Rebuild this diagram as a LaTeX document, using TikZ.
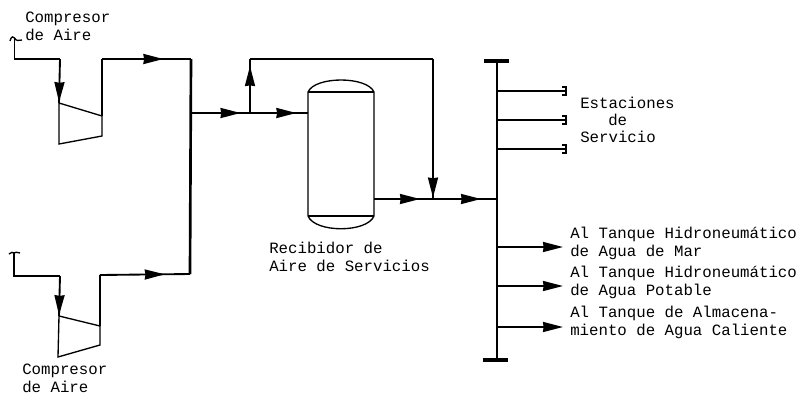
\documentclass[tikz,border=0pt]{standalone}
\usepackage{fontspec}
\setmonofont{Liberation Mono}
\usetikzlibrary{arrows.meta,decorations.markings}
\tikzset{pipe/.style={line width=1.4pt,line join=miter},
 thin pipe/.style={line width=1pt},
 bus/.style={line width=2pt},
 arr/.style={-{Stealth[length=15pt,width=7.5pt,inset=.5pt]},line width=1.4pt},
 flow/.style={pipe,postaction={decorate},decoration={markings,mark=at position #1 with {\arrow{Stealth[length=15pt,width=7.5pt,inset=.5pt]}}}},
 txt/.style={anchor=west,align=left,inner sep=0pt,font=\fontsize{11.8}{13.4}\selectfont\ttfamily}}
\begin{document}
\begin{tikzpicture}[x=.75pt,y=-.75pt]
\useasboundingbox (0,0) rectangle (797,394);
% compresores
\coordinate (ua) at (14.5,38);\coordinate (ub) at (14.5,59);\coordinate (uc) at (60,59);
\coordinate (ud) at (59,103);\coordinate (ue) at (102,116);\coordinate (uf) at (102,136);\coordinate (ug) at (59,144);
\coordinate (uh) at (102,59);\coordinate (ui) at (191,59);
\coordinate (la) at (14,253);\coordinate (lb) at (14,276);\coordinate (lc) at (60,276);
\coordinate (ld) at (59,316);\coordinate (le) at (100,326);\coordinate (lf) at (100,345);\coordinate (lg) at (58,357);
\coordinate (lh) at (100,275);\coordinate (li) at (190,274);
\draw[pipe] (ua)--(ub)--(uc);
\draw[flow=.98] (uc)--(ud);
\draw[thin pipe] (ud)--(ue)--(uf)--(ug)--cycle;
\draw[pipe] (ue)--(uh);
\draw[flow=.69] (uh)--(ui);
\draw[pipe] (la)--(lb)--(lc);
\draw[flow=.98] (lc)--(ld);
\draw[thin pipe] (ld)--(le)--(lf)--(lg)--cycle;
\draw[pipe] (le)--(lh);
\draw[flow=.72] (lh)--(li);
\draw[bus] (ui)--(li);
\draw[thin pipe] (10,41) .. controls (11,36) and (14,36) .. (ua) .. controls (16,41) and (19,41) .. (22,40);
\draw[thin pipe] (9,254) .. controls (11,252) and (13,252) .. (la) .. controls (15,252) and (17,252) .. (20,253);
% recibidor
\coordinate (ta) at (308,92);\coordinate (tb) at (374,92);\coordinate (tc) at (374,216);\coordinate (td) at (308,216);
\draw[thin pipe] (ta) .. controls (315,76) and (367,76) .. (tb) -- (tc) .. controls (367,233) and (315,233) .. (td) -- cycle;
\draw[thin pipe] (ta)--(tb) (td)--(tc);
% lineas
\coordinate (ma) at (191,113);\coordinate (mb) at (250,113);\coordinate (mc) at (308,113);
\coordinate (md) at (250,59);\coordinate (me) at (433,59);
\coordinate (na) at (374,199);\coordinate (nb) at (433,199);\coordinate (nc) at (497,199);
\draw[flow=.84] (ma)--(mb);
\draw[flow=.8] (mb)--(mc);
\draw[flow=.87] (mb)--(md);
\draw[pipe] (md)--(me);
\draw[flow=.99] (me)--(nb);
\draw[flow=.78] (na)--(nb);
\draw[flow=.75] (nb)--(nc);
% colector
\coordinate (ca) at (497,60);\coordinate (cb) at (497,360);
\draw[bus] (ca)--(cb);
\draw[line width=3pt] (484,61)--(509,61);
\draw[line width=3pt] (483,360)--(508,360);
\foreach \y/\n in {91/a,120/b,149/c}{
 \coordinate (s\n) at (497,\y);\coordinate (t\n) at (565,\y);
 \draw[pipe] (s\n)--(t\n);
 \draw[thin pipe] (562,\y-4)--(566,\y-4)--(566,\y+4)--(562,\y+4);}
\foreach \y/\n in {247/a,286/b,327/c}{
 \coordinate (p\n) at (497,\y);\coordinate (q\n) at (563,\y);
 \draw[arr] (p\n)--(q\n);}
% textos
\node[txt] (comp1) at (25,26) {Compresor\\de Aire};
\node[txt] (comp2) at (22,378.5) {Compresor\\de Aire};
\node[txt] (rec) at (269,257) {Recibidor de\\Aire de Servicios};
\node[txt] (est1) at (580,103) {Estaciones};
\node[txt] (est2) at (608,120) {de};
\node[txt] (est3) at (580,137) {Servicio};
\node[txt] (tq1) at (570,243) {Al Tanque Hidroneumático\\de Agua de Mar};
\node[txt] (tq2) at (570,282) {Al Tanque Hidroneumático\\de Agua Potable};
\node[txt] (tq3) at (570,322.5) {Al Tanque de Almacena-\\miento de Agua Caliente};
\end{tikzpicture}
\end{document}
